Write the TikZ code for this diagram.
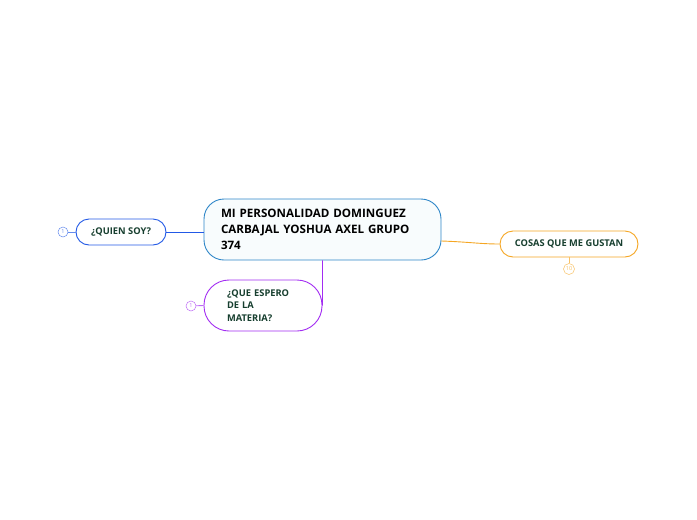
\documentclass[tikz,border=0pt]{standalone}
\usepackage{fontspec}
\setmainfont{Open Sans}
\usepackage{tikz}
\usetikzlibrary{positioning}

\definecolor{mainblue}{HTML}{2E86C8}
\definecolor{mainfill}{HTML}{F8FCFD}
\definecolor{topicblue}{HTML}{2259E6}
\definecolor{topicorange}{HTML}{F5A623}
\definecolor{topicpurple}{HTML}{A22CF2}
\definecolor{topictext}{HTML}{173F2F}

\begin{document}
\begin{tikzpicture}[
  x=1pt,
  y=-1pt,
  central/.style={
    rectangle,
    rounded corners=20pt,
    draw=mainblue,
    fill=mainfill,
    line width=0.9pt,
    align=left,
    text width=203pt,
    minimum width=237pt,
    minimum height=61pt,
    inner sep=0pt,
    font=\bfseries\fontsize{11.6}{16}\selectfont
  },
  topic/.style={
    rectangle,
    rounded corners=13pt,
    fill=white,
    line width=0.9pt,
    align=center,
    minimum height=26pt,
    inner sep=0pt,
    text=topictext,
    font=\bfseries\fontsize{9.3}{12.5}\selectfont
  },
  badge/.style={
    circle,
    draw,
    fill=white,
    line width=0.5pt,
    minimum size=10pt,
    inner sep=0pt,
    font=\fontsize{5.5}{5.5}\selectfont
  },
  link/.style={line width=0.9pt}
]
\useasboundingbox (0,0) rectangle (697,520);

\node[central] (main) at (322.5, 229.5)
  {MI PERSONALIDAD DOMINGUEZ\\CARBAJAL YOSHUA AXEL GRUPO\\374};

\node[topic, draw=topicblue, minimum width=90pt] (quien) at (121, 232)
  {¿QUIEN SOY?};
\node[topic, draw=topicorange, minimum width=138pt] (cosas) at (569, 244)
  {COSAS QUE ME GUSTAN};
\node[topic, draw=topicpurple, rounded corners=25pt, minimum width=118pt,
  minimum height=51pt, align=left, text width=72pt] (espero) at (263, 305.5)
  {¿QUE ESPERO\\DE LA\\MATERIA?};

\node[badge, draw=topicblue!70, text=topicblue!70] (quienno) at (63, 232) {1};
\node[badge, draw=topicorange!70, text=topicorange!70, minimum size=11pt] (cosasno) at (569, 269) {10};
\node[badge, draw=topicpurple!70, text=topicpurple!70] (esperono) at (191, 306) {1};

% branches
\draw[link, topicblue] (quien.east) -- (quien.east -| main.west);
\draw[link, topicorange] (main.east |- 0,241) .. controls (470,242) and (480,244) .. (cosas.west);
\draw[link, topicpurple] (main.south) -- (espero.east);

% badges
\draw[link, topicblue!70] (quienno) -- (quien.west);
\draw[link, topicorange!70] (cosas.south) -- (cosasno);
\draw[link, topicpurple!70] (esperono) -- (espero.west);
\end{tikzpicture}
\end{document}
